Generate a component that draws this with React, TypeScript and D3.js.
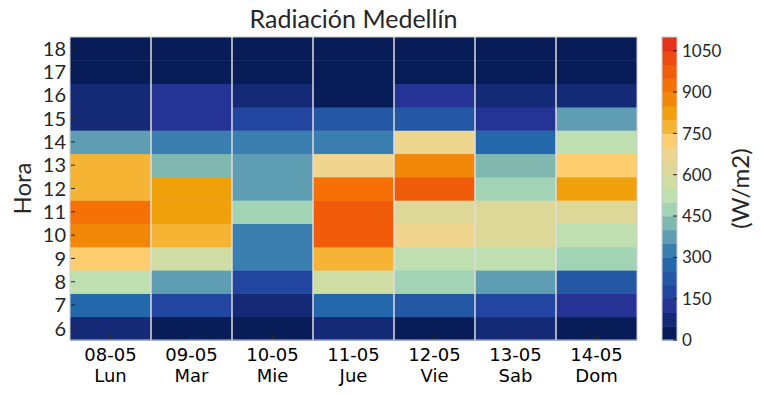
import React, { useEffect, useRef } from 'react';
import * as d3 from 'd3';

const days = ['08-05', '09-05', '10-05', '11-05', '12-05', '13-05', '14-05'];
const dayNames = ['Lun', 'Mar', 'Mie', 'Jue', 'Vie', 'Sab', 'Dom'];
const hours = [6, 7, 8, 9, 10, 11, 12, 13, 14, 15, 16, 17, 18];

// W/m2 per hour, 6h..18h
const lun = [70, 270, 520, 720, 870, 920, 780, 790, 370, 80, 60, 10, 5];
const mar = [30, 170, 380, 570, 780, 820, 830, 420, 320, 130, 120, 10, 5];
const mie = [25, 80, 180, 330, 340, 470, 390, 380, 310, 160, 70, 10, 5];
const jue = [60, 260, 560, 770, 960, 980, 910, 680, 330, 230, 40, 10, 5];
const vie = [40, 220, 480, 530, 670, 620, 950, 860, 660, 210, 110, 10, 5];
const sab = [55, 160, 370, 540, 610, 630, 490, 410, 270, 120, 60, 10, 5];
const dom = [35, 120, 240, 460, 510, 610, 810, 710, 530, 360, 70, 10, 5];

const colorTicks = [0, 150, 300, 450, 600, 750, 900, 1050];

const binColors = [
  '#081d58', '#142a76', '#253494', '#2246a0', '#2457a4', '#2268ab',
  '#3a7fb0', '#5e9db2', '#80b8b0', '#a2d3b5', '#bfdfb0', '#cfdca4',
  '#ddd897', '#efd58e', '#fdcd6e', '#f5b433', '#f0a00a', '#f28708',
  '#f57005', '#f05c0a', '#ec4a10', '#e5331a'
];

const App: React.FC = () => {
  const svgRef = useRef<SVGSVGElement>(null);

  useEffect(() => {
    if (!svgRef.current) return;
    const svg = d3.select(svgRef.current);
    svg.selectAll('*').remove();

    const width = 764;
    const height = 395;
    const margin = { left: 70, top: 37, right: 127, bottom: 55 };
    const innerW = width - margin.left - margin.right;
    const innerH = height - margin.top - margin.bottom;
    const font = 'Lato, "Open Sans", sans-serif';

    svg.attr('width', width).attr('height', height).attr('viewBox', `0 0 ${width} ${height}`);

    const series = [lun, mar, mie, jue, vie, sab, dom];
    const cells = series.flatMap((vals, i) =>
      vals.map((v, j) => ({ day: days[i], hour: hours[j], value: v }))
    );

    const x = d3.scaleBand<string>().domain(days).range([margin.left, margin.left + innerW]);
    const y = d3.scaleBand<number>().domain([...hours].reverse()).range([margin.top, margin.top + innerH]);

    const thresholds = d3.range(50, 1100, 50);
    const color = d3.scaleThreshold<number, string>().domain(thresholds).range(binColors);

    svg.append('g')
      .selectAll('rect')
      .data(cells)
      .enter()
      .append('rect')
      .attr('x', (d) => x(d.day)!)
      .attr('y', (d) => y(d.hour)!)
      .attr('width', x.bandwidth())
      .attr('height', y.bandwidth() + 0.5)
      .attr('fill', (d) => color(d.value));

    // column separators
    svg.append('g')
      .selectAll('line')
      .data(days.slice(1))
      .enter()
      .append('line')
      .attr('x1', (d) => x(d)!)
      .attr('x2', (d) => x(d)!)
      .attr('y1', margin.top)
      .attr('y2', margin.top + innerH)
      .attr('stroke', '#dcdcdc')
      .attr('stroke-width', 1.5);

    svg.append('rect')
      .attr('x', margin.left)
      .attr('y', margin.top)
      .attr('width', innerW)
      .attr('height', innerH)
      .attr('fill', 'none')
      .attr('stroke', '#cccccc')
      .attr('stroke-width', 1);

    // y ticks
    const yTicks = svg.append('g');
    hours.forEach((h) => {
      const cy = y(h)! + y.bandwidth() / 2;
      yTicks.append('line')
        .attr('x1', margin.left + 1).attr('x2', margin.left + 5)
        .attr('y1', cy).attr('y2', cy)
        .attr('stroke', '#262626').attr('stroke-width', 1);
      yTicks.append('text')
        .attr('x', margin.left - 4)
        .attr('y', cy)
        .attr('dy', '0.36em')
        .attr('text-anchor', 'end')
        .attr('font-family', font)
        .attr('font-size', 20)
        .attr('fill', '#262626')
        .text(h);
    });

    // x ticks
    const xTicks = svg.append('g');
    days.forEach((d, i) => {
      const cx = x(d)! + x.bandwidth() / 2;
      xTicks.append('line')
        .attr('x1', cx).attr('x2', cx)
        .attr('y1', margin.top + innerH - 1).attr('y2', margin.top + innerH - 6)
        .attr('stroke', '#262626').attr('stroke-width', 1);
      const t = xTicks.append('text')
        .attr('text-anchor', 'middle')
        .attr('font-family', '"DejaVu Sans", sans-serif')
        .attr('font-size', 18)
        .attr('fill', '#000');
      t.append('tspan').attr('x', cx).attr('y', 361).text(d);
      t.append('tspan').attr('x', cx).attr('y', 382).text(dayNames[i]);
    });

    svg.append('text')
      .attr('x', (margin.left + margin.left + innerW) / 2)
      .attr('y', 28)
      .attr('text-anchor', 'middle')
      .attr('font-family', font)
      .attr('font-size', 25)
      .attr('fill', '#262626')
      .text('Radiación Medellín');

    svg.append('text')
      .attr('transform', `translate(31, ${margin.top + innerH / 2}) rotate(-90)`)
      .attr('text-anchor', 'middle')
      .attr('font-family', font)
      .attr('font-size', 24)
      .attr('fill', '#262626')
      .text('Hora');

    // colorbar
    const cbX = 662;
    const cbW = 15;
    const cbScale = d3.scaleLinear().domain([0, 1100]).range([margin.top + innerH, margin.top]);
    const cb = svg.append('g');
    binColors.forEach((c, i) => {
      cb.append('rect')
        .attr('x', cbX)
        .attr('y', cbScale((i + 1) * 50))
        .attr('width', cbW)
        .attr('height', cbScale(i * 50) - cbScale((i + 1) * 50) + 0.5)
        .attr('fill', c);
    });
    cb.append('rect')
      .attr('x', cbX).attr('y', margin.top)
      .attr('width', cbW).attr('height', innerH)
      .attr('fill', 'none').attr('stroke', '#cccccc');
    colorTicks.forEach((v) => {
      const ty = cbScale(v);
      cb.append('line')
        .attr('x1', cbX + cbW - 4).attr('x2', cbX + cbW)
        .attr('y1', ty).attr('y2', ty)
        .attr('stroke', '#262626');
      cb.append('text')
        .attr('x', cbX + cbW + 5)
        .attr('y', ty)
        .attr('dy', '0.36em')
        .attr('font-family', font)
        .attr('font-size', 17)
        .attr('fill', '#262626')
        .text(v);
    });
    svg.append('text')
      .attr('transform', `translate(749, ${margin.top + innerH / 2}) rotate(-90)`)
      .attr('text-anchor', 'middle')
      .attr('font-family', font)
      .attr('font-size', 24)
      .attr('fill', '#262626')
      .text('(W/m2)');
  }, []);

  return (
    <div style={{ margin: -8 }}>
      <svg ref={svgRef} />
    </div>
  );
};

export default App;
